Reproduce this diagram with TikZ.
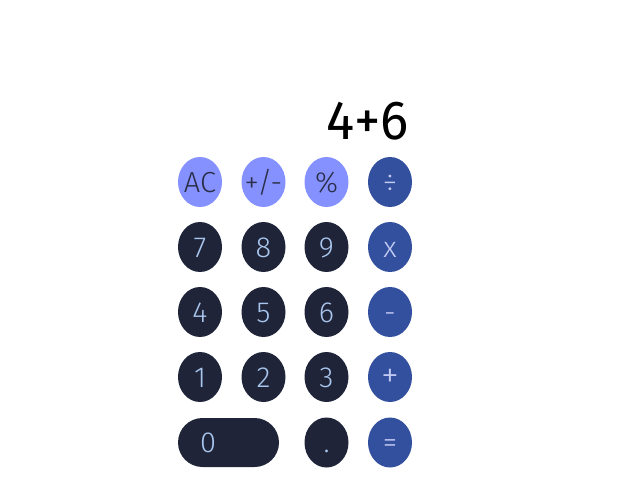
\documentclass[tikz,border=0pt]{standalone}
\usepackage{fontspec}
\setmainfont{Fira Sans Light}
\newfontfamily\dispfont{Fira Sans}
\usetikzlibrary{shapes.geometric}
\definecolor{lightbtn}{HTML}{8591FF}
\definecolor{darkbtn}{HTML}{1F2438}
\definecolor{bluebtn}{HTML}{33509F}
\definecolor{lighttxt}{HTML}{A9C6EE}
\definecolor{darktxt}{HTML}{2A2E48}
\definecolor{bluetxt}{HTML}{C3CBF2}
\tikzset{
  btn/.style={ellipse, minimum width=44pt, minimum height=50pt, inner sep=0pt, text height=20pt, text depth=0pt, font=\fontsize{29}{29}\selectfont},
  fnbtn/.style={btn, fill=lightbtn, text=darktxt},
  numbtn/.style={btn, fill=darkbtn, text=lighttxt},
  opbtn/.style={btn, fill=bluebtn, text=bluetxt},
}
\begin{document}
\begin{tikzpicture}[x=1pt,y=-1pt]
\useasboundingbox (0,0) rectangle (640,480);
\node[anchor=base east, inner sep=0pt, font=\dispfont\fontsize{55}{55}\selectfont, xscale=0.96] (disp) at (409,139) {4+6};
\node[fnbtn] (ac) at (200,182) {\makebox[0pt]{AC}};
\node[fnbtn] (pm) at (263.5,182) {\makebox[0pt]{+/-}};
\node[fnbtn] (pct) at (326.5,182) {\%};
\node[opbtn] (div) at (390,182) {÷};
\node[numbtn] (n7) at (200,247) {7};
\node[numbtn] (n8) at (263.5,247) {8};
\node[numbtn] (n9) at (326.5,247) {9};
\node[opbtn] (mul) at (390,247) {x};
\node[numbtn] (n4) at (200,312) {4};
\node[numbtn] (n5) at (263.5,312) {5};
\node[numbtn] (n6) at (326.5,312) {6};
\node[opbtn] (sub) at (390,312) {-};
\node[numbtn] (n1) at (200,377) {1};
\node[numbtn] (n2) at (263.5,377) {2};
\node[numbtn] (n3) at (326.5,377) {3};
\node[opbtn, font=\fontsize{36}{36}\selectfont] (add) at (390,377) {+};
\fill[darkbtn, rounded corners=24.5pt] (178,418) rectangle (279,467);
\node[font=\fontsize{29}{29}\selectfont, text=lighttxt] (n0) at (208,442.5) {0};
\node[numbtn] (dot) at (326.5,442.5) {.};
\node[opbtn] (eq) at (390,442.5) {=};
\end{tikzpicture}
\end{document}
